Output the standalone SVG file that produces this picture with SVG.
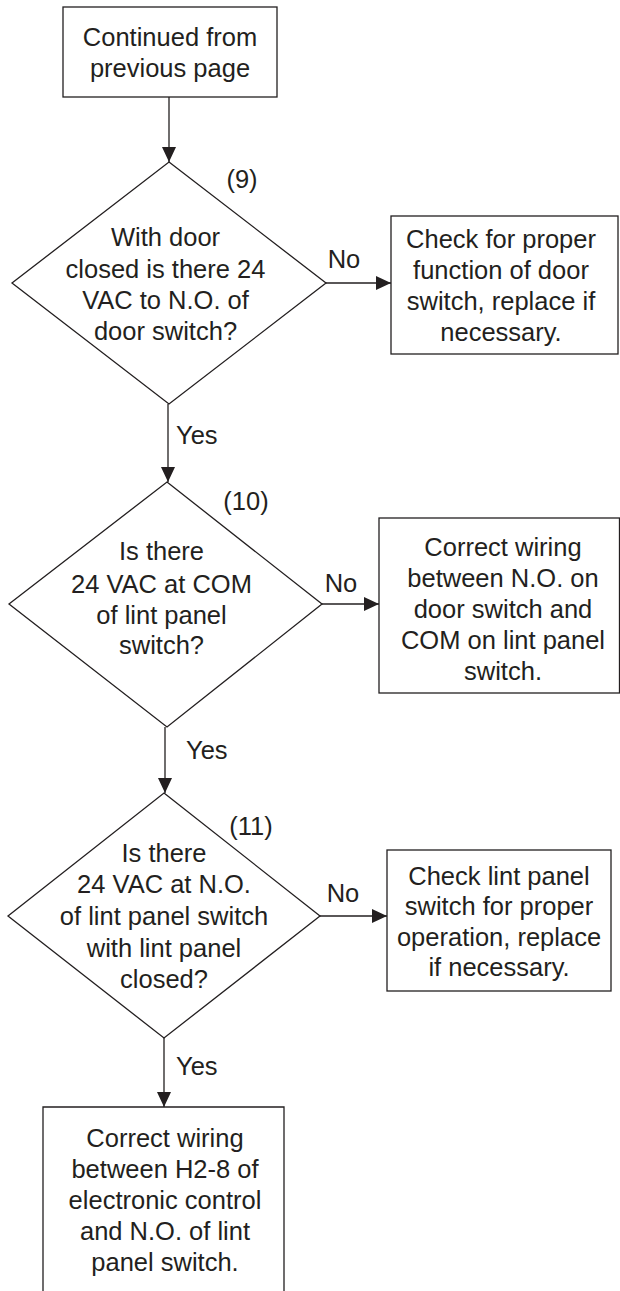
<svg xmlns="http://www.w3.org/2000/svg" width="620" height="1291" viewBox="0 0 620 1291">
<style>
.box{fill:#fff;stroke:#231f20;stroke-width:1.3}
.t{font-family:"Liberation Sans",Arial,sans-serif;font-size:25.5px;fill:#231f20;text-anchor:middle}
.l{font-family:"Liberation Sans",Arial,sans-serif;font-size:25.5px;fill:#231f20}
.c{fill:none;stroke:#231f20;stroke-width:1.3;marker-end:url(#ah)}
</style>
<defs>
<marker id="ah" viewBox="0 0 15 14" refX="15" refY="7" markerWidth="15" markerHeight="14" markerUnits="userSpaceOnUse" orient="auto">
<path d="M0,0 L15,7 L0,14 z" fill="#231f20"/>
</marker>
</defs>
<rect width="620" height="1291" fill="#fff"/>
<g id="connectors">
<path class="c" d="M169,97 V162"/>
<path class="c" d="M326,283 H391"/>
<path class="c" d="M168,404 V482"/>
<path class="c" d="M322,604 H379"/>
<path class="c" d="M165,727 V793"/>
<path class="c" d="M320,916 H387"/>
<path class="c" d="M164,1038 V1107"/>
<text class="t" x="344" y="268">No</text>
<text class="l" x="176" y="444">Yes</text>
<text class="t" x="341" y="592">No</text>
<text class="l" x="186" y="759">Yes</text>
<text class="t" x="343" y="902">No</text>
<text class="l" x="176" y="1075">Yes</text>
</g>
<g id="start">
<rect class="box" x="63" y="7" width="214" height="90"/>
<text class="t" x="170" y="46">Continued from</text>
<text class="t" x="170" y="77">previous page</text>
</g>
<g id="d9">
<polygon class="box" points="169,162 326,283 169,404 12,283"/>
<text class="t" x="242" y="188">(9)</text>
<text class="t" x="165.5" y="245.5">With door</text>
<text class="t" x="165.5" y="277.5">closed is there 24</text>
<text class="t" x="165.5" y="309">VAC to N.O. of</text>
<text class="t" x="165.5" y="340">door switch?</text>
</g>
<g id="box9">
<rect class="box" x="391" y="216" width="227" height="138"/>
<text class="t" x="501" y="248">Check for proper</text>
<text class="t" x="501" y="279">function of door</text>
<text class="t" x="501" y="310">switch, replace if</text>
<text class="t" x="501" y="341">necessary.</text>
</g>
<g id="d10">
<polygon class="box" points="167,482 322,604 167,727 9,604"/>
<text class="t" x="246" y="510">(10)</text>
<text class="t" x="161.5" y="560">Is there</text>
<text class="t" x="161.5" y="592.5">24 VAC at COM</text>
<text class="t" x="161.5" y="623.5">of lint panel</text>
<text class="t" x="161.5" y="654">switch?</text>
</g>
<g id="box10">
<rect class="box" x="379" y="518" width="240.5" height="175"/>
<text class="t" x="503" y="555.5">Correct wiring</text>
<text class="t" x="503" y="586.7">between N.O. on</text>
<text class="t" x="503" y="617.7">door switch and</text>
<text class="t" x="503" y="649">COM on lint panel</text>
<text class="t" x="503" y="680">switch.</text>
</g>
<g id="d11">
<polygon class="box" points="164,793 320,916 164,1038 8,916"/>
<text class="t" x="251" y="835">(11)</text>
<text class="t" x="164" y="861.5">Is there</text>
<text class="t" x="164" y="893.3">24 VAC at N.O.</text>
<text class="t" x="164" y="925">of lint panel switch</text>
<text class="t" x="164" y="956.7">with lint panel</text>
<text class="t" x="164" y="988.3">closed?</text>
</g>
<g id="box11">
<rect class="box" x="387" y="850" width="224" height="141"/>
<text class="t" x="499" y="885">Check lint panel</text>
<text class="t" x="499" y="915">switch for proper</text>
<text class="t" x="499" y="945.5">operation, replace</text>
<text class="t" x="499" y="976">if necessary.</text>
</g>
<g id="end">
<path class="box" d="M43,1291 V1107 H284 V1291"/>
<text class="t" x="165" y="1147">Correct wiring</text>
<text class="t" x="165" y="1178.3">between H2-8 of</text>
<text class="t" x="165" y="1209.3">electronic control</text>
<text class="t" x="165" y="1240">and N.O. of lint</text>
<text class="t" x="165" y="1271">panel switch.</text>
</g>
</svg>
